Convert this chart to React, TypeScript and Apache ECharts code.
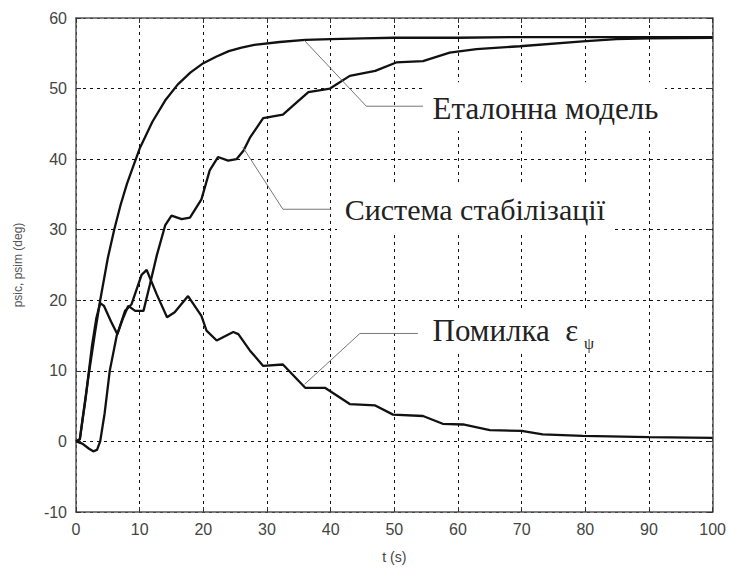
import React, { useEffect, useRef } from "react";
import * as echarts from "echarts";

// Reference model (Еталонна модель)
const refT = [0, 0.6, 1, 2, 2.5, 3, 3.8, 4, 5, 6, 7, 8, 9, 10, 12, 14, 16, 18, 20, 22, 24, 26, 28, 32, 36, 40, 45, 50, 60, 70, 80, 90, 100];
const refV = [0, 0.3, 3, 9.5, 12.5, 15.5, 20, 21, 26, 30, 33.5, 36.5, 39, 41.5, 45.3, 48.3, 50.6, 52.3, 53.6, 54.5, 55.3, 55.8, 56.2, 56.6, 56.9, 57.0, 57.1, 57.2, 57.2, 57.3, 57.3, 57.3, 57.3];

// Stabilisation system (Система стабілізації)
const sysT = [0, 1, 2, 2.7, 3.3, 3.8, 4.5, 5.3, 6.4, 7.4, 8.2, 9.3, 10.6, 11.6, 12.7, 14, 15, 16.6, 17.9, 19.7, 21, 22.3, 23.9, 25.2, 26.3, 27.3, 29.4, 32.5, 34, 36.5, 39.9, 43, 47, 50.3, 54.5, 58.7, 62.9, 69.7, 79.6, 84.9, 90, 100];
const sysV = [0, -0.3, -1, -1.4, -1.2, 0, 4, 10, 15, 17.5, 19.2, 18.5, 18.5, 22.2, 26.4, 30.6, 32, 31.5, 31.7, 34.3, 38.4, 40.3, 39.8, 40, 41.2, 43, 45.8, 46.3, 47.5, 49.5, 50, 51.8, 52.5, 53.7, 53.9, 55.1, 55.6, 56, 56.7, 57, 57.1, 57.2];

// Error (Помилка)
const errT = [0, 0.6, 1.5, 2.5, 3.2, 3.8, 4.4, 5.5, 6.5, 7.7, 8.7, 10.3, 11.1, 12.7, 14.3, 15.5, 17.6, 19.7, 20.5, 22.1, 24.7, 25.5, 27.3, 29.4, 32.5, 36, 39.1, 43, 47, 49.8, 54.5, 57.6, 60.8, 65, 70, 73.3, 79.6, 90, 100];
const errV = [0, 0.3, 6, 13.5, 17.5, 19.6, 19.2, 17, 15.2, 18.5, 19.4, 23.6, 24.3, 20.8, 17.6, 18.3, 20.6, 17.8, 15.7, 14.3, 15.5, 15.2, 12.9, 10.7, 10.9, 7.6, 7.6, 5.3, 5.1, 3.8, 3.6, 2.5, 2.4, 1.6, 1.5, 1.0, 0.8, 0.6, 0.5];

const xName = "t (s)";
const yName = "psic, psim (deg)";
const labelRef = "Еталонна модель";
const labelSys = "Система стабілізації";
const labelErr = "Помилка  ε";
const labelErrSub = "ψ";

const zip = (t: number[], v: number[]) => t.map((x, i) => [x, v[i]]);

export default function App() {
  const divRef = useRef<HTMLDivElement>(null);
  useEffect(() => {
    document.body.style.margin = "0";
    const chart = echarts.init(divRef.current!, null, { renderer: "svg" });
    const frame = { show: true, onZero: false, lineStyle: { color: "#555", width: 1.5 } };
    const tickInside = { show: true, inside: true, length: 5, lineStyle: { color: "#333", width: 1 } };
    const split = { show: true, lineStyle: { color: "#111", type: [3, 4] as any, width: 1 } };
    const lab = { fontSize: 16, color: "#444", fontFamily: "Liberation Sans", margin: 9 };
    const lineSeries = (d: number[][]) => ({
      type: "line",
      data: d,
      showSymbol: false,
      symbol: "none",
      lineStyle: { color: "#111", width: 2.3 },
      xAxisIndex: 0,
      yAxisIndex: 0,
    });
    chart.setOption({
      animation: false,
      backgroundColor: "#fff",
      grid: { left: 76, right: 16, top: 18, bottom: 47 },
      xAxis: [
        {
          type: "value", min: 0, max: 100, interval: 10, position: "bottom",
          axisLine: frame, axisTick: tickInside, splitLine: split, axisLabel: lab,
          name: xName, nameLocation: "middle", nameGap: 38,
          nameTextStyle: { fontSize: 14, color: "#444", fontFamily: "Liberation Sans" },
        },
        {
          type: "value", min: 0, max: 100, interval: 10, position: "top",
          axisLine: frame, axisTick: tickInside, splitLine: { show: false }, axisLabel: { show: false },
        },
      ],
      yAxis: [
        {
          type: "value", min: -10, max: 60, interval: 10, position: "left",
          axisLine: frame, axisTick: tickInside, splitLine: split, axisLabel: lab,
          name: yName, nameLocation: "middle", nameGap: 52,
          nameTextStyle: { fontSize: 12, color: "#555", fontFamily: "Liberation Sans" },
        },
        {
          type: "value", min: -10, max: 60, interval: 10, position: "right",
          axisLine: frame, axisTick: tickInside, splitLine: { show: false }, axisLabel: { show: false },
        },
      ],
      series: [lineSeries(zip(refT, refV)), lineSeries(zip(sysT, sysV)), lineSeries(zip(errT, errV))],
    });

    const p = (t: number, v: number) => chart.convertToPixel({ seriesIndex: 0 }, [t, v]) as number[];
    const box = (t0: number, v0: number, t1: number, v1: number) => {
      const a = p(t0, v0), b = p(t1, v1);
      return {
        type: "rect", z: 1, silent: true,
        shape: { x: a[0], y: a[1], width: b[0] - a[0], height: b[1] - a[1] },
        style: { fill: "#fff" },
      };
    };
    const leader = (pts: number[][]) => ({
      type: "polyline", z: 10, silent: true,
      shape: { points: pts.map(([t, v]) => p(t, v)) },
      style: { stroke: "#777", lineWidth: 1, fill: null },
    });
    const txt = (t: number, v: number, text: string, size: number) => {
      const a = p(t, v);
      return {
        type: "text", z: 10, silent: true, x: a[0], y: a[1],
        style: { text, fontSize: size, fontFamily: "Liberation Serif", fill: "#222", verticalAlign: "middle", align: "left" },
      };
    };
    chart.setOption({
      graphic: [
        box(54.5, 50.9, 92.5, 44),
        box(41, 36.7, 84.1, 29.6),
        box(54.8, 18.5, 83.8, 12.5),
        leader([[35.9, 56.8], [45.6, 47.5], [54.5, 47.5]]),
        leader([[26.2, 41.7], [32.5, 32.9], [40.1, 32.9]]),
        leader([[35.9, 8.1], [44.6, 15.3], [53.7, 15.3]]),
        txt(56, 47.2, labelRef, 31),
        txt(42.2, 32.9, labelSys, 30),
        txt(56, 15.7, labelErr, 31),
        txt(79.8, 13.9, labelErrSub, 16),
      ],
    });
    return () => chart.dispose();
  }, []);
  return <div ref={divRef} style={{ width: 729, height: 569 }} />;
}
